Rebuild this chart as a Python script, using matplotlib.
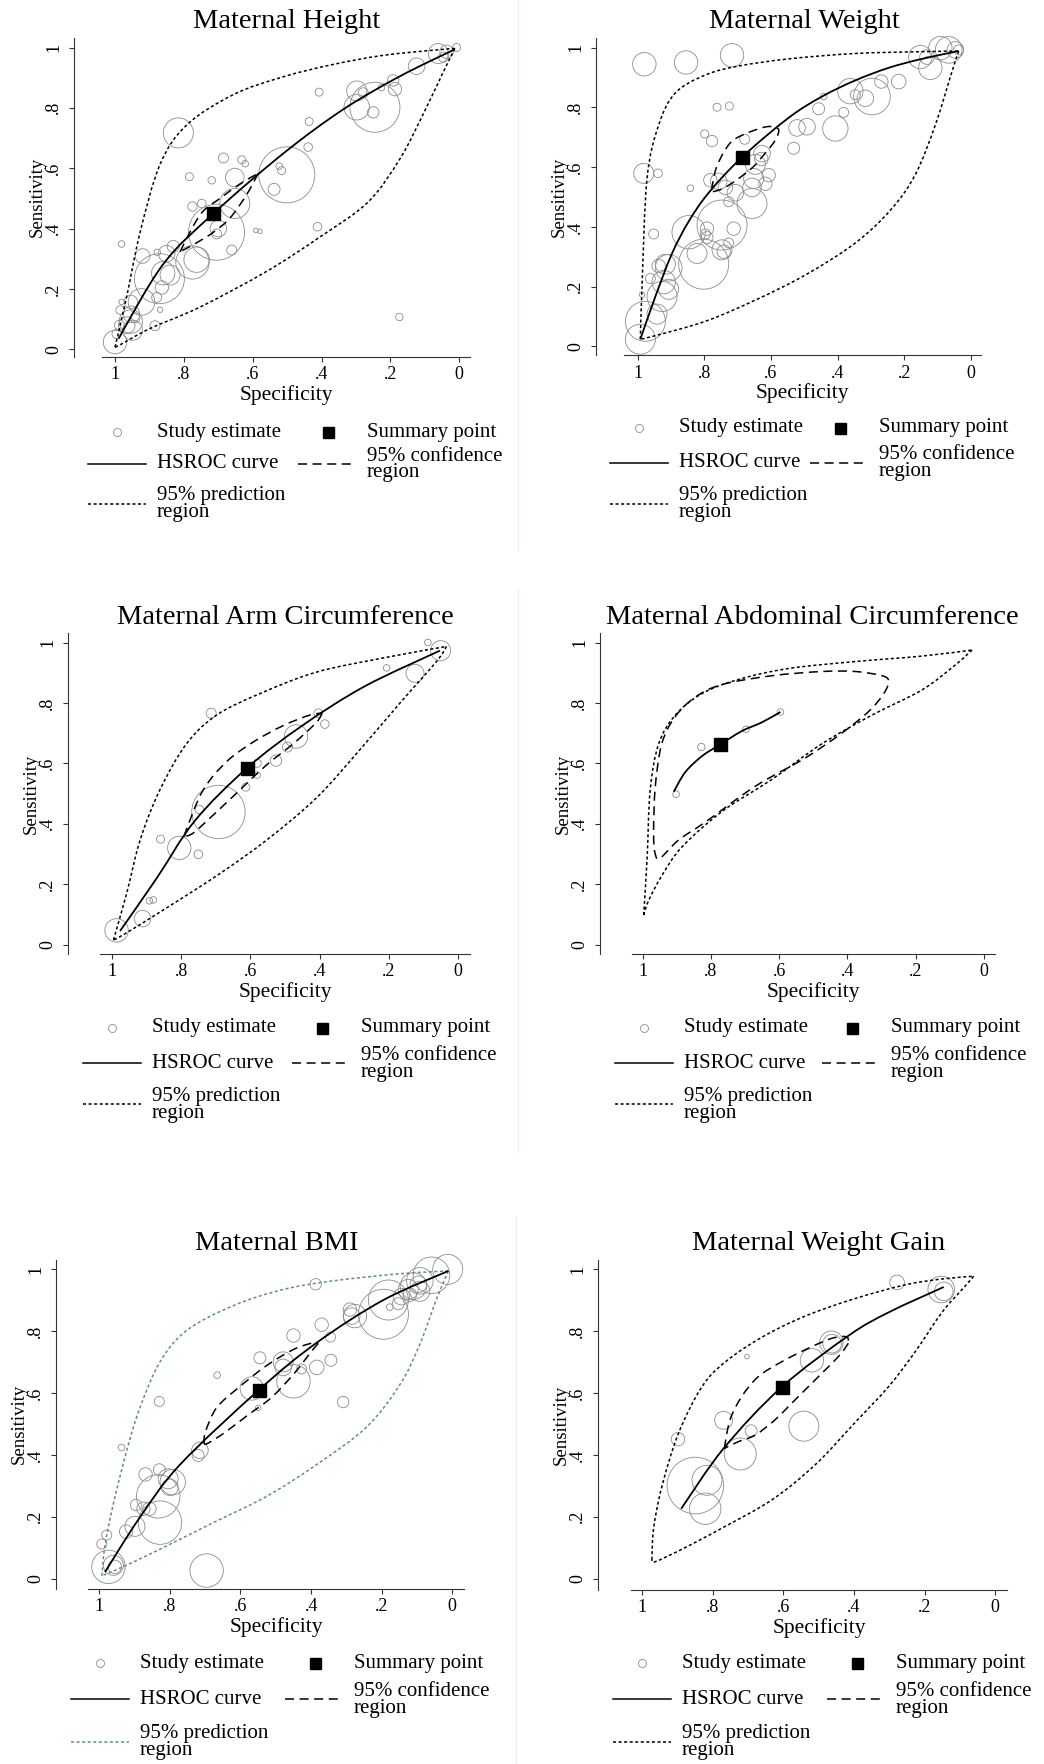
import matplotlib
matplotlib.use("Agg")
import matplotlib.pyplot as plt
from matplotlib.lines import Line2D
from matplotlib.path import Path
from matplotlib.patches import PathPatch

W, H, DPI = 1044, 1764, 100
PT = 72 / DPI  # points per pixel

plt.rcParams.update({
    "font.family": ["Liberation Serif", "DejaVu Serif"],
    "lines.scale_dashes": False,
})

GRAY = "#8c8c8c"
TEAL = "#5f8f85"
TICKS = [0, 0.2, 0.4, 0.6, 0.8, 1.0]
YLABELS = ["0", ".2", ".4", ".6", ".8", "1"]
XLABELS = ["0", ".2", ".4", ".6", ".8", "1"]

# ---------------------------------------------------------------- data
# Maternal Height
HT_SPEC = [0.008, 0.037, 0.061, 0.046, 0.124, 0.192, 0.187, 0.226, 0.298, 0.279, 0.245, 0.250,
           0.298, 0.407, 0.436, 0.439, 0.501, 0.523, 0.516, 0.538, 0.685, 0.632, 0.622, 0.719,
           0.784, 0.652, 0.652, 0.775, 0.748, 0.705, 0.700, 0.705, 0.816, 0.591, 0.579, 0.412,
           0.174, 0.981, 0.920, 0.877, 0.831, 0.850, 0.763, 0.775, 0.871, 0.860, 0.840, 0.864,
           0.923, 0.954, 0.879, 0.661, 0.869, 0.884, 0.952, 0.954, 0.966, 0.949, 0.985, 0.987,
           1.000, 0.995, 0.981, 0.942]
HT_SENS = [1.000, 0.986, 0.980, 0.968, 0.938, 0.891, 0.862, 0.867, 0.856, 0.850, 0.802, 0.785,
           0.802, 0.852, 0.755, 0.670, 0.578, 0.607, 0.592, 0.530, 0.634, 0.628, 0.615, 0.560,
           0.572, 0.569, 0.483, 0.473, 0.483, 0.388, 0.400, 0.382, 0.717, 0.394, 0.391, 0.406,
           0.107, 0.349, 0.309, 0.321, 0.341, 0.317, 0.297, 0.288, 0.234, 0.252, 0.246, 0.205,
           0.157, 0.157, 0.172, 0.329, 0.131, 0.078, 0.116, 0.092, 0.080, 0.063, 0.130, 0.080,
           0.024, 0.051, 0.157, 0.104]
HT_W = [4, 6.7, 10, 5, 8.3, 5.7, 6.7, 3.3, 10, 5, 25, 5.7,
        12.7, 4, 4, 4.3, 28, 3.3, 4, 6, 5, 4, 3.3, 3.7,
        4, 9.3, 15, 4.7, 4.3, 28, 8.3, 5, 15, 2.3, 2.3, 4.3,
        3.7, 3.3, 7.3, 3.3, 6, 8.3, 12.7, 16.7, 25, 11.7, 10, 6.7,
        13.3, 6.7, 5, 5, 2.7, 5, 8.3, 11.7, 8.3, 10, 4.3, 5,
        11.7, 4.7, 2.7, 5]
HT_SUMMARY = (0.714, 0.450)
HT_CURVE = [(0.990, 0.035), (0.860, 0.282), (0.714, 0.450), (0.511, 0.649), (0.337, 0.795),
            (0.172, 0.905), (0.013, 0.994)]
HT_CONF = [(0.811, 0.323), (0.777, 0.400), (0.743, 0.459), (0.695, 0.500), (0.637, 0.548),
           (0.584, 0.583), (0.618, 0.512), (0.666, 0.435), (0.714, 0.388), (0.763, 0.353),
           (0.811, 0.323)]
HT_PRED = [(1.000, 0.007), (0.966, 0.175), (0.927, 0.388), (0.869, 0.613), (0.792, 0.743),
           (0.656, 0.844), (0.511, 0.903), (0.366, 0.944), (0.221, 0.974), (0.076, 0.991),
           (0.013, 0.997), (0.046, 0.920), (0.105, 0.779), (0.172, 0.632), (0.265, 0.488),
           (0.405, 0.372), (0.560, 0.258), (0.753, 0.140), (0.898, 0.069), (0.985, 0.015),
           (1.000, 0.007)]

# Maternal Weight
WT_SPEC = [0.980, 0.855, 0.717, 0.092, 0.067, 0.047, 0.037, 0.152, 0.122, 0.132, 0.217, 0.269,
           0.362, 0.297, 0.317, 0.347, 0.442, 0.457, 0.382, 0.407, 0.522, 0.492, 0.532, 0.762,
           0.725, 0.799, 0.777, 0.679, 0.627, 0.629, 0.647, 0.607, 0.617, 0.657, 0.652, 0.657,
           0.757, 0.782, 0.737, 0.707, 0.727, 0.747, 0.712, 0.822, 0.802, 0.847, 0.792, 0.797,
           0.792, 0.747, 0.727, 0.742, 0.982, 0.939, 0.842, 0.952, 0.907, 0.917, 0.937, 0.962,
           0.922, 0.907, 0.927, 0.942, 0.977, 0.992, 0.987]
WT_SENS = [0.944, 0.950, 0.974, 0.998, 0.992, 0.992, 0.992, 0.968, 0.932, 0.968, 0.886, 0.886,
           0.854, 0.836, 0.830, 0.842, 0.836, 0.795, 0.783, 0.729, 0.731, 0.735, 0.663, 0.800,
           0.804, 0.711, 0.687, 0.693, 0.645, 0.627, 0.609, 0.573, 0.544, 0.532, 0.562, 0.478,
           0.552, 0.556, 0.532, 0.514, 0.484, 0.406, 0.394, 0.311, 0.275, 0.382, 0.394, 0.376,
           0.364, 0.323, 0.346, 0.317, 0.579, 0.579, 0.529, 0.376, 0.263, 0.275, 0.269, 0.227,
           0.215, 0.191, 0.167, 0.108, 0.084, 0.024, 0.173]
WT_W = [11.7, 11.7, 11.7, 11.7, 13.3, 8.3, 5, 11.7, 11.7, 7.3, 7.3, 6.7,
        12.7, 18.3, 8.3, 5, 3.3, 6, 5, 12.7, 8.3, 8.3, 6, 4,
        4, 4, 5.7, 5, 8.3, 6.7, 10, 6.7, 6.7, 9.3, 10, 15,
        8.3, 6.7, 7.3, 8.3, 5, 25, 6.7, 10, 25, 16.7, 6.7, 5,
        6, 10, 5, 6.7, 10, 4.3, 3.3, 5, 13.3, 10, 6.7, 5,
        11.7, 10, 15, 10, 20, 15, 2.7]
WT_SUMMARY = (0.687, 0.633)
WT_CURVE = [(0.992, 0.024), (0.947, 0.167), (0.897, 0.311), (0.847, 0.418), (0.787, 0.514),
            (0.687, 0.633), (0.547, 0.765), (0.447, 0.836), (0.347, 0.890), (0.247, 0.932),
            (0.147, 0.962), (0.037, 0.988)]
WT_CONF = [(0.778, 0.523), (0.763, 0.601), (0.723, 0.680), (0.673, 0.713), (0.613, 0.735),
           (0.581, 0.730), (0.578, 0.713), (0.593, 0.680), (0.618, 0.646), (0.653, 0.601),
           (0.703, 0.557), (0.743, 0.529), (0.773, 0.518)]
WT_PRED = [(0.992, 0.024), (0.987, 0.203), (0.972, 0.562), (0.937, 0.741), (0.887, 0.848),
           (0.797, 0.908), (0.697, 0.938), (0.547, 0.962), (0.347, 0.980), (0.147, 0.986),
           (0.037, 0.988), (0.057, 0.920), (0.107, 0.741), (0.167, 0.575), (0.240, 0.458),
           (0.347, 0.346), (0.497, 0.239), (0.647, 0.155), (0.797, 0.084), (0.947, 0.036),
           (0.992, 0.024)]

# Maternal Arm Circumference
AC_SPEC = [0.088, 0.051, 0.207, 0.125, 0.404, 0.385, 0.468, 0.493, 0.526, 0.580, 0.580,
           0.613, 0.713, 0.747, 0.692, 0.859, 0.805, 0.750, 0.891, 0.880, 0.911, 0.986]
AC_SENS = [1.000, 0.973, 0.916, 0.898, 0.766, 0.730, 0.689, 0.654, 0.609, 0.600, 0.561,
           0.521, 0.766, 0.447, 0.439, 0.349, 0.320, 0.299, 0.145, 0.148, 0.086, 0.047]
AC_W = [3.3, 10, 3.3, 9, 4.3, 4.3, 11.7, 5, 5.7, 4, 3.3,
        4, 5, 4.3, 26.7, 4, 11.7, 4.3, 3.3, 3.3, 8.3, 11.7]
AC_SUMMARY = (0.609, 0.585)
AC_CURVE = [(0.976, 0.045), (0.870, 0.220), (0.760, 0.410), (0.609, 0.585), (0.450, 0.725),
            (0.270, 0.855), (0.053, 0.973)]
AC_CONF = [(0.789, 0.358), (0.784, 0.382), (0.736, 0.512), (0.668, 0.606), (0.591, 0.671),
           (0.505, 0.725), (0.428, 0.760), (0.394, 0.766), (0.409, 0.736), (0.476, 0.665),
           (0.553, 0.595), (0.630, 0.512), (0.707, 0.429), (0.764, 0.370), (0.789, 0.358)]
AC_PRED = [(0.995, 0.015), (0.957, 0.169), (0.918, 0.346), (0.861, 0.512), (0.784, 0.665),
           (0.697, 0.760), (0.572, 0.831), (0.409, 0.902), (0.216, 0.949), (0.034, 0.987),
           (0.063, 0.937), (0.168, 0.800), (0.284, 0.645), (0.409, 0.486), (0.553, 0.346),
           (0.697, 0.228), (0.841, 0.122), (0.957, 0.039), (0.995, 0.015)]

# Maternal Abdominal Circumference
AB_SPEC = [0.596, 0.697, 0.828, 0.902]
AB_SENS = [0.770, 0.713, 0.654, 0.498]
AB_W = [3.3, 3.3, 3.7, 3.3]
AB_SUMMARY = (0.772, 0.663)
AB_CURVE = [(0.909, 0.506), (0.875, 0.571), (0.826, 0.624), (0.772, 0.663), (0.709, 0.707),
            (0.650, 0.736), (0.596, 0.770)]
AB_CONF = [(0.905, 0.754), (0.846, 0.819), (0.767, 0.861), (0.621, 0.890), (0.474, 0.904),
           (0.376, 0.904), (0.298, 0.890), (0.279, 0.872), (0.293, 0.831), (0.337, 0.772),
           (0.415, 0.701), (0.523, 0.618), (0.670, 0.524), (0.817, 0.405), (0.895, 0.346),
           (0.948, 0.287), (0.963, 0.299), (0.968, 0.370), (0.963, 0.524), (0.944, 0.665)]
AB_PRED = [(0.997, 0.098), (0.987, 0.287), (0.978, 0.512), (0.953, 0.665), (0.904, 0.760),
           (0.826, 0.831), (0.718, 0.878), (0.572, 0.914), (0.376, 0.937), (0.181, 0.955),
           (0.034, 0.975), (0.083, 0.926), (0.181, 0.843), (0.327, 0.760), (0.474, 0.665),
           (0.621, 0.547), (0.767, 0.441), (0.885, 0.323), (0.944, 0.228), (0.983, 0.145),
           (0.997, 0.098)]

# Maternal BMI
BMI_SPEC = [0.013, 0.059, 0.092, 0.110, 0.125, 0.096, 0.120, 0.144, 0.092, 0.181, 0.195, 0.153,
            0.177, 0.290, 0.285, 0.276, 0.387, 0.370, 0.345, 0.450, 0.545, 0.479, 0.479, 0.450,
            0.427, 0.384, 0.344, 0.568, 0.550, 0.666, 0.309, 0.830, 0.937, 0.715, 0.720, 0.869,
            0.830, 0.805, 0.792, 0.833, 0.800, 0.896, 0.875, 0.858, 0.828, 0.899, 0.924, 0.979,
            0.993, 0.974, 0.960, 0.956, 0.696]
BMI_SENS = [1.000, 0.981, 0.963, 0.946, 0.935, 0.952, 0.918, 0.912, 0.929, 0.901, 0.855, 0.889,
            0.878, 0.870, 0.849, 0.849, 0.952, 0.821, 0.781, 0.786, 0.714, 0.701, 0.683, 0.638,
            0.678, 0.683, 0.706, 0.615, 0.552, 0.658, 0.571, 0.573, 0.424, 0.415, 0.398, 0.337,
            0.352, 0.323, 0.312, 0.266, 0.295, 0.238, 0.226, 0.226, 0.181, 0.169, 0.152, 0.141,
            0.112, 0.038, 0.043, 0.038, 0.026]
BMI_W = [15, 18.3, 13.3, 13.3, 10, 8.3, 6.7, 8.3, 10, 20, 25, 6,
         3.3, 6.7, 8.3, 11.7, 5.7, 6.7, 5, 6.7, 6, 10, 8.3, 16.7,
         5, 7.3, 6, 11.7, 2.7, 3.3, 5.7, 5, 3.3, 8.3, 6, 6.7,
         6, 10, 12.7, 21.7, 8.3, 5.7, 6.7, 6.7, 21.7, 10, 6.7, 5,
         5, 16.7, 10, 6.7, 16.7]
BMI_SUMMARY = (0.547, 0.611)
BMI_CURVE = [(0.984, 0.021), (0.885, 0.198), (0.771, 0.369), (0.547, 0.611), (0.384, 0.763),
             (0.195, 0.901), (0.011, 0.995)]
BMI_CONF = [(0.703, 0.435), (0.700, 0.472), (0.668, 0.552), (0.602, 0.621), (0.526, 0.689),
            (0.450, 0.741), (0.393, 0.763), (0.380, 0.760), (0.399, 0.735), (0.446, 0.666),
            (0.512, 0.586), (0.579, 0.529), (0.645, 0.472), (0.692, 0.438), (0.703, 0.435)]
BMI_PRED = [(0.993, 0.009), (0.984, 0.106), (0.960, 0.243), (0.922, 0.415), (0.885, 0.552),
            (0.828, 0.701), (0.752, 0.803), (0.620, 0.883), (0.479, 0.935), (0.337, 0.963),
            (0.148, 0.986), (0.011, 0.995), (0.044, 0.906), (0.092, 0.758), (0.148, 0.628),
            (0.243, 0.490), (0.384, 0.369), (0.526, 0.266), (0.668, 0.186), (0.809, 0.106),
            (0.923, 0.043), (0.993, 0.009)]

# Maternal Weight Gain
WG_SPEC = [0.278, 0.153, 0.146, 0.462, 0.464, 0.519, 0.703, 0.769, 0.691, 0.542, 0.722,
           0.898, 0.849, 0.816, 0.821]
WG_SENS = [0.958, 0.935, 0.929, 0.760, 0.763, 0.706, 0.718, 0.512, 0.478, 0.493, 0.403,
           0.451, 0.301, 0.318, 0.226]
WG_W = [7.3, 13.3, 9.3, 9.3, 11.7, 11.7, 2.3, 9, 6, 15, 16, 6.7, 28.3, 15, 15.7]
WG_SUMMARY = (0.605, 0.619)
WG_CURVE = [(0.889, 0.226), (0.769, 0.421), (0.605, 0.619), (0.415, 0.786), (0.302, 0.861),
            (0.146, 0.943)]
WG_CONF = [(0.767, 0.421), (0.751, 0.513), (0.718, 0.588), (0.671, 0.653), (0.605, 0.701),
           (0.529, 0.745), (0.463, 0.777), (0.421, 0.782), (0.416, 0.761), (0.440, 0.723),
           (0.491, 0.664), (0.558, 0.588), (0.624, 0.513), (0.680, 0.464), (0.727, 0.443),
           (0.767, 0.421)]
WG_PRED = [(0.972, 0.061), (0.967, 0.163), (0.943, 0.301), (0.896, 0.472), (0.830, 0.621),
           (0.764, 0.701), (0.660, 0.781), (0.538, 0.849), (0.396, 0.906), (0.255, 0.950),
           (0.151, 0.969), (0.061, 0.978), (0.094, 0.935), (0.151, 0.861), (0.226, 0.735),
           (0.302, 0.621), (0.396, 0.506), (0.509, 0.369), (0.632, 0.255), (0.774, 0.163),
           (0.887, 0.095), (0.962, 0.055), (0.972, 0.061)]

TITLES = ["Maternal Height", "Maternal Weight", "Maternal Arm Circumference",
          "Maternal Abdominal Circumference", "Maternal BMI", "Maternal Weight Gain"]

# ---------------------------------------------------------------- layout (pixels)
# box = plot region x0, x1, y0, y1; xt/yt = pixel where data value 1 and 0 fall
LAYOUT = [
    dict(box=(102, 470, 37.5, 357.1), xt=(115, 459.3), yt=(47.5, 349.3), yaxis=74,
         title=(287, 22), leg=(88, 432), col2=240, dy=(32, 71.5)),
    dict(box=(623.7, 981.3, 37.5, 355.4), xt=(637.7, 971), yt=(47.5, 346.4), yaxis=596,
         title=(804, 22), leg=(610, 427.5), col2=230, dy=(35, 76)),
    dict(box=(100, 470, 632.9, 954.3), xt=(111.7, 458.3), yt=(642.5, 944.6), yaxis=68.3,
         title=(285, 617), leg=(83, 1027.5), col2=239, dy=(35.7, 76.8)),
    dict(box=(632, 995, 632.9, 954.3), xt=(642.7, 983.7), yt=(642.5, 944.6), yaxis=600.3,
         title=(812, 617), leg=(615, 1027.5), col2=237, dy=(35.7, 76.8)),
    dict(box=(88, 464, 1259.5, 1588.8), xt=(99.3, 452.3), yt=(1269.4, 1578.6), yaxis=56,
         title=(277, 1243.6), leg=(71, 1663.4), col2=244, dy=(36, 78.4)),
    dict(box=(631, 1007, 1259.5, 1589.9), xt=(642, 995.3), yt=(1269.4, 1578.6), yaxis=598,
         title=(819, 1243.6), leg=(613, 1663.4), col2=244, dy=(36, 78.4)),
]
# regions drawn as one smooth closed loop (the others have pointed ends)
ROUND = {"WT_CONF", "AB_CONF"}

CONF_DASH = (6.5, 4.0)
PRED_DASH = (2.2, 1.8)
LW = 1.1
FS_TITLE, FS_AXIS, FS_YLAB, FS_TICK, FS_LEG = 20.5, 15.5, 13.5, 13, 15


def fx(x):
    return x / W


def fy(y):
    return 1 - y / H


def smooth(pts, closed=False):
    """Catmull-Rom through the vertices, as cubic Bezier segments."""
    n = len(pts)
    verts, codes = [pts[0]], [Path.MOVETO]
    segs = n if closed else n - 1
    for i in range(segs):
        if closed:
            p0, p1, p2, p3 = pts[i - 1], pts[i], pts[(i + 1) % n], pts[(i + 2) % n]
        else:
            p0 = pts[i - 1] if i > 0 else pts[i]
            p1, p2 = pts[i], pts[i + 1]
            p3 = pts[i + 2] if i + 2 < n else pts[i + 1]
        c1 = (p1[0] + (p2[0] - p0[0]) / 6, p1[1] + (p2[1] - p0[1]) / 6)
        c2 = (p2[0] - (p3[0] - p1[0]) / 6, p2[1] - (p3[1] - p1[1]) / 6)
        verts += [c1, c2, p2]
        codes += [Path.CURVE4] * 3
    return verts, codes


def region_path(pts, round_loop):
    if round_loop:
        if pts[0] == pts[-1]:
            pts = pts[:-1]
        return Path(*smooth(pts, closed=True))
    k = min(range(len(pts)), key=lambda i: pts[i][0])
    va, ca = smooth(pts[:k + 1])
    vb, cb = smooth(pts[k:])
    return Path(va + vb, ca + cb)


def draw_path(ax, path, color, lw, dashes=None, z=3):
    ls = "solid" if dashes is None else (0, dashes)
    ax.add_patch(PathPatch(path, fill=False, edgecolor=color, lw=lw, linestyle=ls,
                           capstyle="butt", joinstyle="round", clip_on=False, zorder=z))


def draw_panel(fig, lay, title, spec, sens, w, summary, curve, conf, pred, pred_color,
               conf_round):
    x0, x1, y0, y1 = lay["box"]
    ax = fig.add_axes([fx(x0), fy(y1), (x1 - x0) / W, (y1 - y0) / H])
    a1, a0 = lay["xt"]
    b1, b0 = lay["yt"]
    ux, uy = a0 - a1, b0 - b1
    ax.set_xlim(1 + (a1 - x0) / ux, -(x1 - a0) / ux)
    ax.set_ylim(-(y1 - b0) / uy, 1 + (b1 - y0) / uy)

    ax.scatter(spec, sens, s=[(2 * v * PT) ** 2 for v in w], facecolors="none",
               edgecolors=GRAY, linewidths=0.6, clip_on=False, zorder=2)
    draw_path(ax, region_path(pred, False), pred_color, LW, PRED_DASH)
    draw_path(ax, region_path(conf, conf_round), "black", LW, CONF_DASH)
    draw_path(ax, Path(*smooth(curve)), "black", LW + 0.2, z=4)
    ax.plot([summary[0]], [summary[1]], "s", color="black", ms=13 * PT, zorder=5)

    for s in ("top", "right"):
        ax.spines[s].set_visible(False)
    ax.spines["left"].set_position(("outward", (x0 - lay["yaxis"]) * PT))
    for s in ("left", "bottom"):
        ax.spines[s].set_linewidth(0.8)
        ax.spines[s].set_color("#333333")
    ax.set_xticks(TICKS)
    ax.set_xticklabels(XLABELS)
    ax.set_yticks(TICKS)
    ax.set_yticklabels(YLABELS, rotation=90, va="center")
    ax.tick_params(direction="out", length=5 * PT, width=0.8, color="#333333",
                   labelsize=FS_TICK)
    ax.tick_params(axis="y", pad=5)
    ax.tick_params(axis="x", pad=3)
    ax.set_facecolor("none")

    fig.text(fx(lay["title"][0]), fy(lay["title"][1]), title, ha="center", va="center",
             size=FS_TITLE)
    fig.text(fx((x0 + x1) / 2), fy(y1 + 38), "Specificity", ha="center", va="center",
             size=FS_AXIS)
    fig.text(fx(lay["yaxis"] - 37), fy((y0 + y1) / 2), "Sensitivity", ha="center",
             va="center", rotation=90, size=FS_YLAB)

    # legend
    lx, ly = lay["leg"]
    c2 = lx + lay["col2"]
    r2, r3 = ly + lay["dy"][0], ly + lay["dy"][1]
    fs = FS_LEG
    fig.add_artist(Line2D([fx(lx + 29)], [fy(ly)], marker="o", ms=8 * PT, mfc="none",
                          mec=GRAY, mew=0.6, lw=0))
    fig.text(fx(lx + 69), fy(ly), "Study estimate", va="center", ha="left", size=fs)
    fig.add_artist(Line2D([fx(c2)], [fy(ly)], marker="s", ms=11 * PT, color="black", lw=0))
    fig.text(fx(c2 + 39), fy(ly), "Summary point", va="center", ha="left", size=fs)
    fig.add_artist(Line2D([fx(lx), fx(lx + 58)], [fy(r2), fy(r2)], color="black", lw=LW))
    fig.text(fx(lx + 69), fy(r2), "HSROC curve", va="center", ha="left", size=fs)
    fig.add_artist(Line2D([fx(c2 - 30), fx(c2 + 26)], [fy(r2), fy(r2)], color="black",
                          lw=LW, dashes=CONF_DASH))
    fig.text(fx(c2 + 39), fy(r2 - 8), "95% confidence", va="center", ha="left", size=fs)
    fig.text(fx(c2 + 39), fy(r2 + 9), "region", va="center", ha="left", size=fs)
    fig.add_artist(Line2D([fx(lx), fx(lx + 58)], [fy(r3), fy(r3)], color=pred_color,
                          lw=LW, dashes=PRED_DASH))
    fig.text(fx(lx + 69), fy(r3 - 8), "95% prediction", va="center", ha="left", size=fs)
    fig.text(fx(lx + 69), fy(r3 + 9), "region", va="center", ha="left", size=fs)
    return ax


def main():
    fig = plt.figure(figsize=(W / DPI, H / DPI), dpi=DPI)
    fig.patch.set_facecolor("white")

    # faint separators between the stitched panels
    for xs, ya, yb in ((518, 0, 550), (518, 590, 1152), (516, 1216, 1764)):
        fig.add_artist(Line2D([fx(xs), fx(xs)], [fy(ya), fy(yb)], color="#e6eeee", lw=1))

    panels = [
        (HT_SPEC, HT_SENS, HT_W, HT_SUMMARY, HT_CURVE, HT_CONF, HT_PRED, "black",
         "HT_CONF" in ROUND),
        (WT_SPEC, WT_SENS, WT_W, WT_SUMMARY, WT_CURVE, WT_CONF, WT_PRED, "black",
         "WT_CONF" in ROUND),
        (AC_SPEC, AC_SENS, AC_W, AC_SUMMARY, AC_CURVE, AC_CONF, AC_PRED, "black",
         "AC_CONF" in ROUND),
        (AB_SPEC, AB_SENS, AB_W, AB_SUMMARY, AB_CURVE, AB_CONF, AB_PRED, "black",
         "AB_CONF" in ROUND),
        (BMI_SPEC, BMI_SENS, BMI_W, BMI_SUMMARY, BMI_CURVE, BMI_CONF, BMI_PRED, TEAL,
         "BMI_CONF" in ROUND),
        (WG_SPEC, WG_SENS, WG_W, WG_SUMMARY, WG_CURVE, WG_CONF, WG_PRED, "black",
         "WG_CONF" in ROUND),
    ]
    for lay, title, p in zip(LAYOUT, TITLES, panels):
        draw_panel(fig, lay, title, *p)

    fig.savefig("out.png", dpi=DPI)


if __name__ == "__main__":
    main()
